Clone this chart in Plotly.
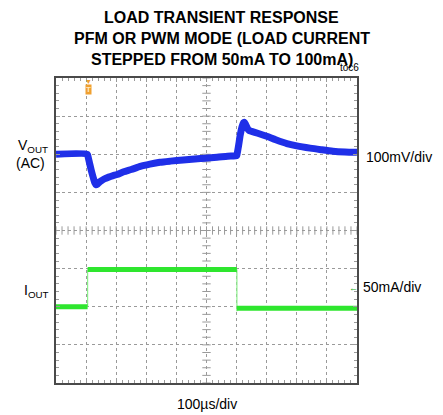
import numpy as np
import plotly.graph_objects as go

COR_VOUT = "#1f2fe8"
COR_IOUT = "#2ee62e"
COR_GRADE = "#9a9a9a"
COR_BORDA = "#4a4a4a"
COR_TRIGGER = "#f0a030"
FONTE = "Liberation Sans, Arial"

# tempo em µs (100µs/div, 10 divisões)
t_vout = [0, 104, 107, 112, 118, 124, 129, 133, 137, 142, 150, 160, 175, 190, 203,
          225, 250, 280, 312, 345, 380, 422, 480, 535, 570, 600,
          601, 606, 612, 618, 623, 626, 630, 636, 642, 650, 670, 700, 730, 767,
          800, 844, 880, 920, 960, 1000]
# Vout AC em mV (100mV/div)
vout_mv = [0, 0, -8, -25, -45, -62, -75, -80, -79, -75, -70, -65, -60, -56, -53,
           -46, -40, -32, -26, -21, -18, -15, -11, -8, -5, -4,
           -2, 20, 50, 72, 83, 84, 78, 68, 62, 60, 55, 47, 38, 28,
           22, 16, 12, 8, 6, 5]

# Iout em mA (50mA/div)
t_iout = [0, 105, None, 105, 601, None, 601, 1000]
iout_ma = [50, 50, None, 99, 99, None, 48, 48]
t_borda = [105, 105, None, 601, 601]
iout_borda = [50, 99, None, 99, 44]

titulo = ["LOAD TRANSIENT RESPONSE",
          "PFM OR PWM MODE (LOAD CURRENT",
          "STEPPED FROM 50mA TO 100mA)"]

W, H = 443, 415
ML, MR, MT, MB = 56, 86, 78, 32


def px_x(x):
    return (x - ML) / (W - ML - MR)


def px_y(y):
    return (H - MB - y) / (H - MT - MB)


fig = go.Figure()

# marcas no centro da tela
minor = np.arange(0, 1000.1, 20)
fig.add_trace(go.Scatter(x=minor, y=[0] * len(minor), mode="markers",
                         marker=dict(symbol="line-ns", size=6, line=dict(width=1, color=COR_GRADE)),
                         hoverinfo="skip", showlegend=False))
minor_y = np.arange(-4, 4.01, 0.2)
fig.add_trace(go.Scatter(x=[500] * len(minor_y), y=minor_y, mode="markers",
                         marker=dict(symbol="line-ew", size=6, line=dict(width=1, color=COR_GRADE)),
                         hoverinfo="skip", showlegend=False))

fig.add_trace(go.Scatter(x=t_vout, y=vout_mv, yaxis="y2", mode="lines",
                         line=dict(color=COR_VOUT, width=7, shape="spline", smoothing=0.6),
                         showlegend=False))
fig.add_trace(go.Scatter(x=t_borda, y=iout_borda, yaxis="y3", mode="lines",
                         line=dict(color="#8cf08c", width=1.2), showlegend=False))
fig.add_trace(go.Scatter(x=t_iout, y=iout_ma, yaxis="y3", mode="lines",
                         line=dict(color=COR_IOUT, width=5), showlegend=False))

eixo = dict(showticklabels=False, zeroline=False, showline=True, mirror="ticks",
            linecolor=COR_BORDA, linewidth=2, gridcolor=COR_GRADE, griddash="dot",
            gridwidth=1, ticks="inside", ticklen=4, tickcolor=COR_GRADE)

fig.update_layout(
    width=W, height=H,
    margin=dict(l=ML, r=MR, t=MT, b=MB),
    paper_bgcolor="white", plot_bgcolor="white",
    xaxis=dict(range=[0, 1000], dtick=100,
               minor=dict(dtick=20, ticks="inside", ticklen=3, tickcolor=COR_GRADE, showgrid=False),
               **eixo),
    yaxis=dict(range=[-4, 4], dtick=1,
               minor=dict(dtick=0.2, ticks="inside", ticklen=3, tickcolor=COR_GRADE, showgrid=False),
               **eixo),
    yaxis2=dict(range=[-600, 200], overlaying="y", visible=False),
    yaxis3=dict(range=[-50, 350], overlaying="y", visible=False),
    font=dict(family=FONTE, color="black"),
    hovermode=False,
)

anot = []
for linha, ypx, tam in zip(titulo, [17, 38, 59], [16, 16, 16]):
    anot.append(dict(text=f"<b>{linha}</b>", x=px_x(222), y=px_y(ypx), font=dict(size=tam)))
anot += [
    dict(text="toc6", x=px_x(349), y=px_y(68), font=dict(size=10)),
    dict(text="V<sub>OUT</sub>", x=px_x(33), y=px_y(146), font=dict(size=14)),
    dict(text="(AC)", x=px_x(30), y=px_y(163), font=dict(size=14)),
    dict(text="I<sub>OUT</sub>", x=px_x(36), y=px_y(291), font=dict(size=14)),
    dict(text="100mV/div", x=px_x(364), y=px_y(157), xanchor="left", font=dict(size=14)),
    dict(text="50mA/div", x=px_x(361), y=px_y(287), xanchor="left", font=dict(size=14)),
    dict(text="100µs/div", x=px_x(207), y=px_y(404), font=dict(size=14)),
    dict(text="←", x=px_x(353), y=px_y(288), font=dict(size=9, color="#22aa22")),
    dict(text="<b>T</b>", x=px_x(88), y=px_y(90), bgcolor=COR_TRIGGER,
         font=dict(size=8, color="#ffe8c0"), borderpad=0),
    dict(text="▼", x=px_x(88), y=px_y(82), font=dict(size=7, color=COR_TRIGGER)),
]
for a in anot:
    a.update(xref="paper", yref="paper", showarrow=False)
    a.setdefault("xanchor", "center")
    a.setdefault("yanchor", "middle")
fig.update_layout(annotations=anot)

fig.write_html("out.html", config={"displayModeBar": False},
               post_script="document.body.style.margin='0';document.body.style.overflow='hidden';")
